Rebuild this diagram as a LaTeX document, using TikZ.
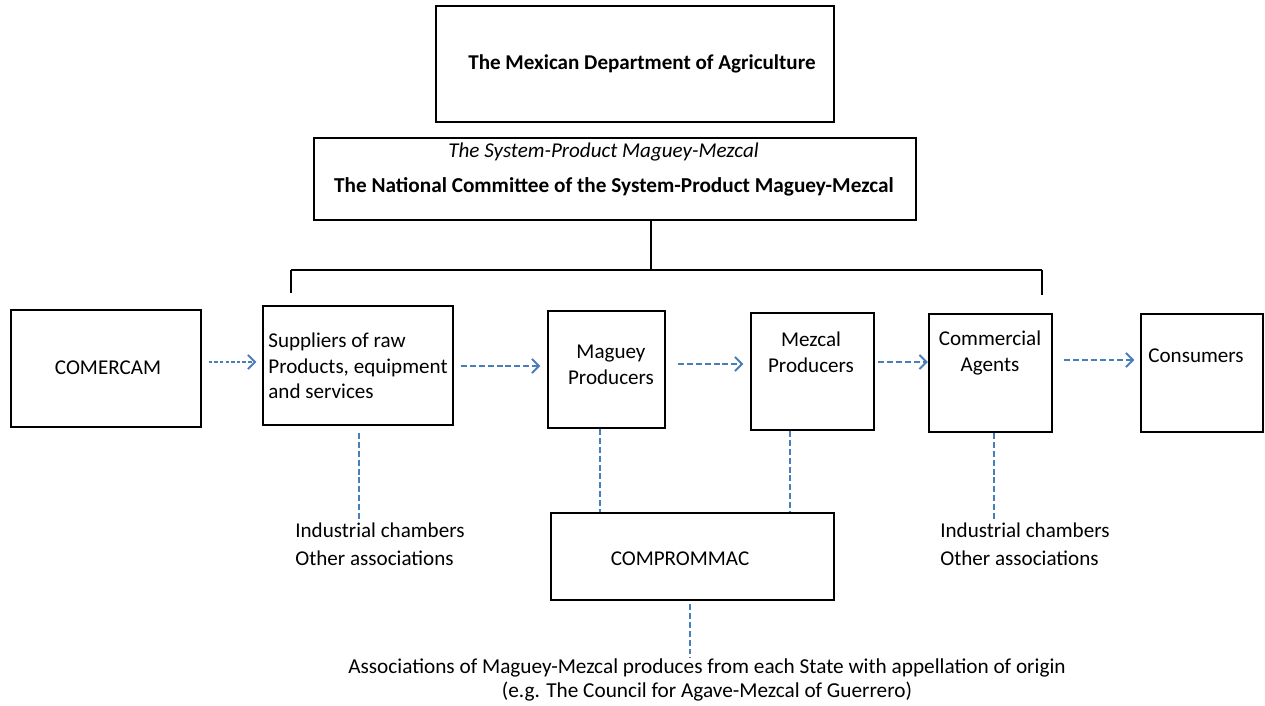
\documentclass[tikz,border=0pt]{standalone}
\usepackage{fontspec}
\setmainfont{Carlito}
\usetikzlibrary{arrows.meta,positioning}
\definecolor{dashblue}{RGB}{74,126,187}

\begin{document}
\begin{tikzpicture}[
  x=0.02cm, y=-0.02cm,
  every node/.style={font=\fontsize{12}{14.6}\selectfont},
  box/.style={draw, line width=0.8pt, inner sep=0pt},
  txt/.style={inner sep=0pt, align=center},
  note/.style={inner sep=0pt, align=left, font=\fontsize{12}{15.9}\selectfont},
  flow/.style={dashblue, line width=1.1pt, dash pattern=on 3.4pt off 1.7pt,
    -{Straight Barb[length=4pt,width=8pt]}},
  link/.style={dashblue, line width=1.1pt, dash pattern=on 3.4pt off 1.7pt},
  brace/.style={line width=0.8pt}
]
  \useasboundingbox (0,0) rectangle (1265,706);

  % top of the hierarchy
  \node[box, minimum width=7.96cm, minimum height=2.32cm] (dept) at (635,64) {};
  \node[txt, font=\fontsize{12}{14.6}\selectfont\bfseries] (deptT) at (642,64)
    {The Mexican Department of Agriculture};
  \node[box, minimum width=12.04cm, minimum height=1.64cm] (cmt) at (615,179) {};
  \node[txt, anchor=west, font=\fontsize{12}{14.6}\selectfont\itshape] (cmtI) at (448,152)
    {The System-Product Maguey-Mezcal};
  \node[txt, font=\fontsize{12.1}{14.6}\selectfont\bfseries] (cmtT) at (614,187)
    {The National Committee of the System-Product Maguey-Mezcal};

  % chain
  \node[box, minimum width=3.8cm, minimum height=2.34cm] (comercam) at (106,368.5) {};
  \node[txt] (comercamT) at (108,368) {COMERCAM};
  \node[box, minimum width=3.8cm, minimum height=2.38cm] (sup) at (358,365.5) {};
  \node[txt, anchor=west, align=left] (supT) at (268,366)
    {Suppliers of raw\\Products, equipment\\and services};
  \node[box, minimum width=2.34cm, minimum height=2.34cm] (maguey) at (606.5,369.5) {};
  \node[txt] (magueyT) at (611,364.5) {Maguey\\Producers};
  \node[box, minimum width=2.46cm, minimum height=2.34cm] (mezcal) at (812.5,371.5) {};
  \node[txt] (mezcalT) at (811,352) {Mezcal\\Producers};
  \node[box, minimum width=2.46cm, minimum height=2.36cm] (agents) at (990.5,373) {};
  \node[txt] (agentsT) at (990,353) {Commercial\\Agents};
  \node[box, minimum width=2.44cm, minimum height=2.36cm] (cons) at (1202,373) {};
  \node[txt, anchor=west] (consT) at (1148,356) {Consumers};
  \node[box, minimum width=5.66cm, minimum height=1.74cm] (comp) at (692.5,556.5) {};
  \node[txt] (compT) at (680,559) {COMPROMMAC};

  % associations
  \node[note, anchor=west] (indL) at (295,544) {Industrial chambers\\Other associations};
  \node[note, anchor=west] (indR) at (940,544) {Industrial chambers\\Other associations};
  \node[txt, font=\fontsize{12.1}{13.8}\selectfont] (assoc) at (707,680)
    {Associations of Maguey-Mezcal produces from each State with appellation of origin\\
     (e.g. The Council for Agave-Mezcal of Guerrero)};

  % bracket under the committee
  \coordinate (brT) at (651,220);
  \coordinate (brM) at (651,270);
  \coordinate (brL) at (291,270);
  \coordinate (brR) at (1042,270);
  \draw[brace] (brT) -- (brM);
  \draw[line width=1.7pt] (brL) -- (brR);
  \draw[brace] (brL) -- ++(0,23);
  \draw[brace] (brR) -- ++(0,25);

  % flows
  \draw[flow, dash pattern=on 2pt off 1.2pt, shorten <=0.14cm, shorten >=0.12cm]
    ([yshift=0.13cm]comercam.east) -- ([yshift=0.13cm]comercam.east -| sup.west);
  \draw[flow, shorten <=0.14cm, shorten >=0.14cm]
    ([yshift=-0.01cm]sup.east) -- ([yshift=-0.01cm]sup.east -| maguey.west);
  \draw[flow, shorten <=0.24cm, shorten >=0.14cm]
    ([yshift=0.11cm]maguey.east) -- ([yshift=0.11cm]maguey.east -| mezcal.west);
  \draw[flow, shorten <=0.06cm, shorten >=0.01cm]
    ([yshift=0.19cm]mezcal.east) -- ([yshift=0.19cm]mezcal.east -| agents.west);
  \draw[flow, shorten <=0.22cm, shorten >=0.12cm]
    ([yshift=0.26cm]agents.east) -- ([yshift=0.26cm]agents.east -| cons.west);

  % links
  \draw[link, shorten <=0.14cm] ([xshift=0.02cm]sup.south) -- ([xshift=0.02cm]sup.south |- indL.north);
  \draw[link] ([xshift=-0.13cm]maguey.south) -- ([xshift=-0.13cm]maguey.south |- comp.north);
  \draw[link] ([xshift=-0.45cm]mezcal.south) -- ([xshift=-0.45cm]mezcal.south |- comp.north);
  \draw[link] ([xshift=0.07cm]agents.south) -- ([xshift=0.07cm]agents.south |- indR.north);
  \draw[link, shorten <=0.06cm] ([xshift=-0.05cm]comp.south) -- ([xshift=-0.05cm]comp.south |- assoc.north);
\end{tikzpicture}
\end{document}
